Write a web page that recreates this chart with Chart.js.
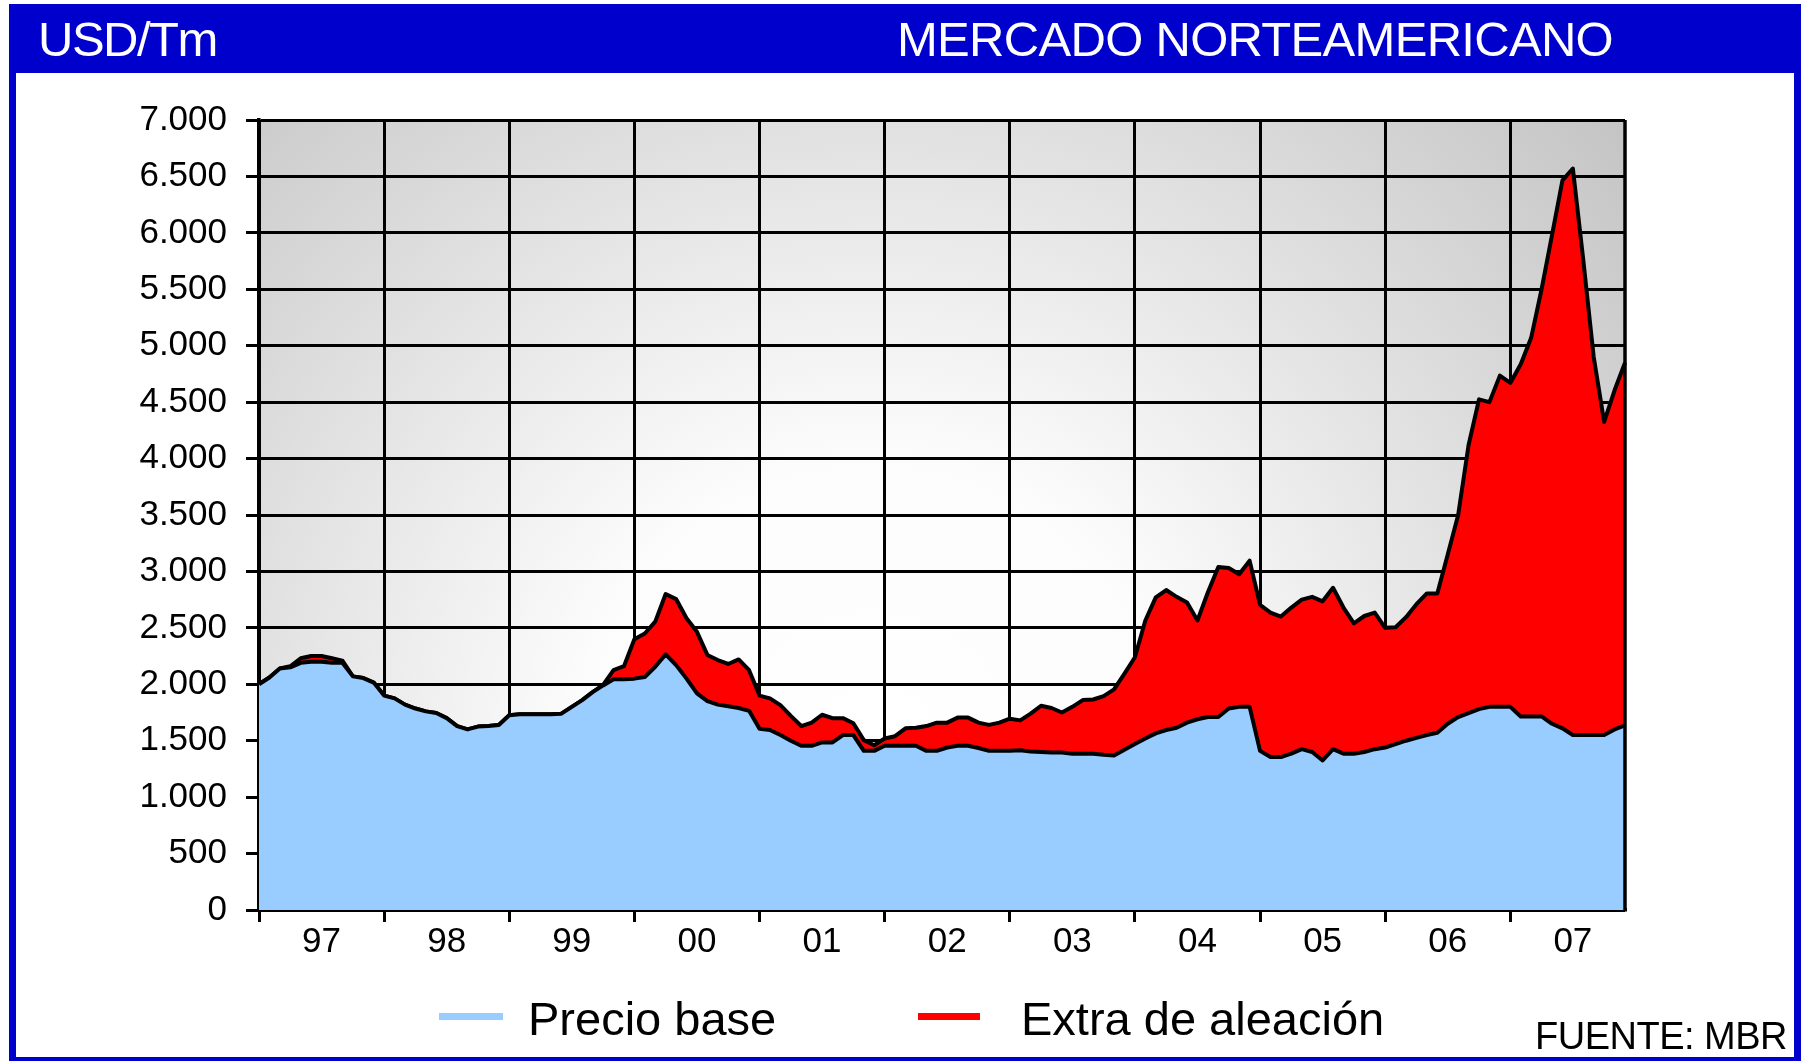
<!DOCTYPE html>
<html lang="es">
<head>
<meta charset="utf-8">
<title>Mercado norteamericano</title>
<script src="https://cdn.jsdelivr.net/npm/chart.js@4/dist/chart.umd.min.js"></script>
<style>
  html, body {
    margin: 0;
    padding: 0;
    background: #ffffff;
  }
  #page {
    position: relative;
    width: 1803px;
    height: 1061px;
    overflow: hidden;
    font-family: 'Liberation Sans', Arial, sans-serif;
  }
  #chartCanvas {
    position: absolute;
    left: 0;
    top: 0;
  }
  .frame {
    position: absolute;
    left: 9px;
    top: 4px;
    width: 1792px;
    height: 1057px;
    box-sizing: border-box;
    border: 7px solid #0000cc;
    border-bottom-width: 4px;
  }
  .banner {
    position: absolute;
    left: 9px;
    top: 4px;
    width: 1792px;
    height: 69px;
    background: #0000cc;
  }
  .txt {
    position: absolute;
    line-height: 1;
    white-space: nowrap;
  }
  .banner-txt {
    color: #ffffff;
    font-size: 49px;
    top: 15px;
  }
  .legend-txt {
    color: #000000;
    font-size: 47px;
    top: 995px;
  }
  .swatch {
    position: absolute;
    top: 1013px;
    height: 7px;
  }
</style>
</head>
<body>
<div id="page">
  <canvas id="chartCanvas" width="1803" height="1061"></canvas>
  <div class="banner"></div>
  <div class="frame"></div>
  <div class="txt banner-txt" style="left:38px; letter-spacing:-1.5px;">USD/Tm</div>
  <div class="txt banner-txt" style="left:897px; letter-spacing:-0.7px;">MERCADO NORTEAMERICANO</div>
  <div class="swatch" style="left:439px; width:64px; background:#99ccff;"></div>
  <div class="txt legend-txt" style="left:528px;">Precio base</div>
  <div class="swatch" style="left:918px; width:62px; background:#ff0000;"></div>
  <div class="txt legend-txt" style="left:1021px;">Extra de aleación</div>
  <div class="txt" style="left:1535px; top:1017px; font-size:38px; letter-spacing:-0.5px;">FUENTE: MBR</div>
</div>

<script>
// Years shown on the x axis (one label per year, monthly data)
const years = ['97', '98', '99', '00', '01', '02', '03', '04', '05', '06', '07'];

// Precio base, USD/Tm, Jan 1997 .. Dec 2007
const precioBase = [
  2000, 2060, 2140, 2150, 2190, 2200, 2200, 2190, 2190, 2070, 2055, 2015, // 97
  1900, 1875, 1820, 1785, 1760, 1745, 1700, 1630, 1600, 1625, 1630, 1640, // 98
  1725, 1735, 1735, 1735, 1735, 1740, 1800, 1860, 1930, 1990, 2045, 2045, // 99
  2050, 2065, 2155, 2265, 2170, 2050, 1920, 1850, 1820, 1805, 1790, 1765, // 00
  1605, 1595, 1550, 1500, 1455, 1455, 1485, 1485, 1550, 1550, 1410, 1410, // 01
  1455, 1455, 1455, 1455, 1410, 1410, 1440, 1455, 1455, 1435, 1410, 1410, // 02
  1410, 1415, 1405, 1400, 1395, 1395, 1385, 1385, 1385, 1375, 1370, 1420, // 03
  1470, 1520, 1565, 1595, 1615, 1660, 1690, 1710, 1710, 1785, 1800, 1800, // 04
  1410, 1355, 1355, 1385, 1425, 1400, 1325, 1425, 1385, 1385, 1400, 1425, // 05
  1440, 1470, 1500, 1525, 1550, 1570, 1650, 1710, 1745, 1780, 1800, 1800, // 06
  1800, 1715, 1715, 1715, 1650, 1610, 1550, 1550, 1550, 1550, 1600, 1635  // 07
];

// Extra de aleación, USD/Tm, stacked on top of the base price
const extraAleacion = [
  0, 0, 0, 10, 40, 50, 50, 40, 20, 0, 0, 0,                               // 97
  0, 0, 0, 0, 0, 0, 0, 0, 0, 0, 0, 0,                                     // 98
  0, 0, 0, 0, 0, 0, 0, 0, 0, 5, 80, 115,                                  // 99
  350, 385, 400, 535, 585, 535, 545, 410, 395, 375, 430, 360,             // 00
  295, 280, 265, 220, 175, 205, 245, 215, 150, 105, 95, 50,               // 01
  65, 85, 155, 160, 220, 250, 220, 250, 250, 225, 230, 250,               // 02
  285, 265, 335, 410, 395, 355, 415, 475, 480, 520, 585, 675,             // 03
  770, 1045, 1205, 1240, 1160, 1065, 875, 1105, 1330, 1245, 1175, 1295,   // 04
  1295, 1280, 1245, 1295, 1325, 1375, 1410, 1430, 1295, 1155, 1205, 1210, // 05
  1060, 1035, 1095, 1185, 1255, 1235, 1500, 1790, 2375, 2745, 2700, 2935, // 06
  2870, 3120, 3355, 3785, 4330, 4855, 5020, 4210, 3350, 2775, 3005, 3215  // 07
];

// Y axis range
const yMin = 0;
const yMax = 7000;
const yStep = 500;

const FONT = "'Liberation Sans', Arial, sans-serif";

document.addEventListener('DOMContentLoaded', () => {
  createMarketChart();
});

/**
 * Month labels like "01/97", one per data point
 */
function buildMonthLabels() {
  const labels = [];
  years.forEach(year => {
    for (let m = 1; m <= 12; m++) {
      labels.push(String(m).padStart(2, '0') + '/' + year);
    }
  });
  return labels;
}

/**
 * 7000 -> "7.000"
 */
function formatThousands(value) {
  return String(value).replace(/\B(?=(\d{3})+(?!\d))/g, '.');
}

// Grey-to-white gradient behind the plot area, like the original
const plotBackground = {
  id: 'plotBackground',
  beforeDraw(chart) {
    const { ctx, chartArea: a } = chart;
    ctx.save();
    ctx.fillStyle = '#ffffff';
    ctx.fillRect(0, 0, chart.width, chart.height);
    const cx = a.left + a.width * 0.45;
    const cy = a.top + a.height * 0.8;
    const r = Math.hypot(a.right - cx, a.top - cy);
    const g = ctx.createRadialGradient(cx, cy, 0, cx, cy, r);
    g.addColorStop(0, '#ffffff');
    g.addColorStop(0.3, '#fcfcfc');
    g.addColorStop(1, '#c4c4c4');
    ctx.fillStyle = g;
    ctx.fillRect(a.left, a.top, a.width, a.height);
    ctx.restore();
  }
};

// Right-hand border of the plot area
const plotFrame = {
  id: 'plotFrame',
  afterDatasetsDraw(chart) {
    const { ctx, chartArea: a } = chart;
    ctx.save();
    ctx.strokeStyle = '#000000';
    ctx.lineWidth = 3.5;
    ctx.beginPath();
    ctx.moveTo(a.right, a.top);
    ctx.lineTo(a.right, a.bottom);
    ctx.stroke();
    ctx.restore();
  }
};

/**
 * Stacked area chart: base price + alloy surcharge
 */
function createMarketChart() {
  const ctx = document.getElementById('chartCanvas').getContext('2d');
  const monthLabels = buildMonthLabels();

  window.marketChart = new Chart(ctx, {
    type: 'line',
    data: {
      labels: monthLabels,
      datasets: [{
        label: 'Precio base',
        data: precioBase,
        backgroundColor: '#99ccff',
        borderColor: '#000000',
        borderWidth: 4,
        borderJoinStyle: 'round',
        fill: 'origin',
        pointRadius: 0,
        tension: 0
      }, {
        label: 'Extra de aleación',
        data: extraAleacion,
        backgroundColor: '#ff0000',
        borderColor: '#000000',
        borderWidth: 4,
        borderJoinStyle: 'round',
        fill: '-1',
        pointRadius: 0,
        tension: 0
      }]
    },
    options: {
      responsive: false,
      animation: false,
      layout: {
        padding: { left: 0, top: 120, right: 178, bottom: 91 }
      },
      plugins: {
        legend: { display: false },
        tooltip: { enabled: false }
      },
      scales: {
        x: {
          type: 'category',
          offset: false,
          afterFit: scale => { scale.height = 60; },
          border: { color: '#000000', width: 3.5 },
          grid: {
            offset: false,
            lineWidth: 3,
            tickLength: 12,
            color: c => (c.index % 12 === 0 ? '#000000' : 'rgba(0,0,0,0)'),
            tickColor: c => (c.index % 12 === 0 ? '#000000' : 'rgba(0,0,0,0)')
          },
          ticks: {
            autoSkip: false,
            maxRotation: 0,
            padding: 3,
            color: '#000000',
            font: { family: FONT, size: 35, lineHeight: 1 },
            callback: (value, index) => (index % 12 === 6 ? years[Math.floor(index / 12)] : '')
          }
        },
        y: {
          stacked: true,
          min: yMin,
          max: yMax,
          afterFit: scale => { scale.width = 259; },
          border: { color: '#000000', width: 3.5 },
          grid: {
            color: '#000000',
            lineWidth: 3,
            tickLength: 13
          },
          ticks: {
            stepSize: yStep,
            padding: 19,
            color: '#000000',
            font: { family: FONT, size: 35 },
            callback: value => formatThousands(value)
          }
        }
      }
    },
    plugins: [plotBackground, plotFrame]
  });
}
</script>
</body>
</html>
